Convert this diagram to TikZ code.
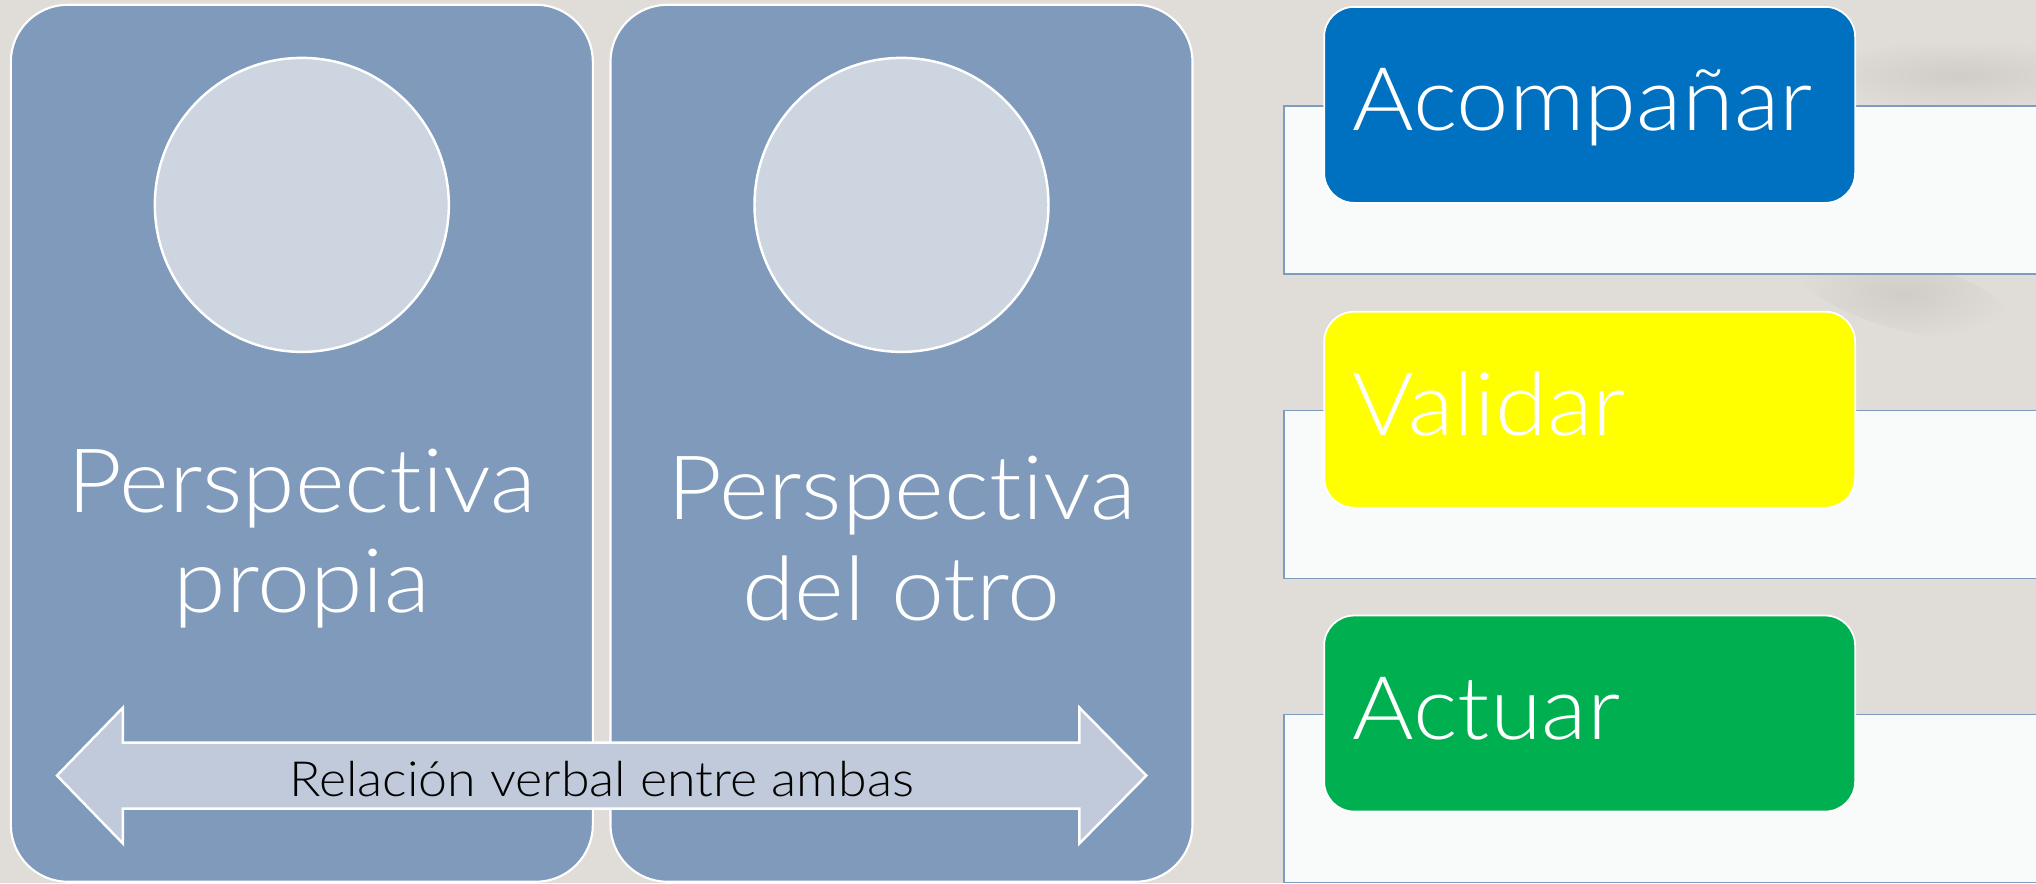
\documentclass[tikz,border=0pt]{standalone}
\usepackage{fontspec}
\setmainfont{Lato}[UprightFont=* Light, FakeStretch=1.07, Ligatures=NoCommon]

\definecolor{backdropgray}{RGB}{224,221,216}
\definecolor{shadowgray}{RGB}{208,204,199}
\definecolor{panelblue}{RGB}{127,154,187}
\definecolor{discgray}{RGB}{204,213,224}
\definecolor{bandgray}{RGB}{192,202,218}
\definecolor{trayfill}{RGB}{249,250,250}
\definecolor{trayline}{RGB}{127,155,190}
\definecolor{cardblue}{RGB}{0,112,192}
\definecolor{cardyellow}{RGB}{255,255,0}
\definecolor{cardgreen}{RGB}{0,176,80}

\begin{document}
\begin{tikzpicture}[x=0.01cm, y=-0.01cm,
		panel/.style={draw=white, line width=0.6pt, fill=panelblue, rounded corners=0.57cm, minimum width=5.82cm, minimum height=8.77cm, inner sep=0pt},
		disc/.style={circle, draw=white, line width=0.7pt, fill=discgray, minimum size=2.94cm, inner sep=0pt},
		view/.style={text=white, font=\fontsize{25.3}{28.5}\selectfont, align=center, inner sep=0pt},
		band/.style={draw=white, line width=0.7pt, fill=bandgray},
		tray/.style={draw=trayline, line width=0.45pt, fill=trayfill, minimum width=8cm, minimum height=1.68cm, anchor=north west, inner sep=0pt},
		card/.style={draw=white, line width=0.5pt, rounded corners=0.3cm, minimum width=5.31cm, minimum height=1.96cm, anchor=north west, inner sep=0pt},
		card text/.style={text=white, font=\fontsize{25}{29}\selectfont, anchor=base west, inner sep=0pt}
	]
\begin{pgfinterruptboundingbox}
	\node[fill=backdropgray, minimum width=20.36cm, minimum height=8.83cm, inner sep=0pt, outer sep=0pt, anchor=north west] (frame) at (0,0) {};
	% soft shadows in the backdrop
	\shade[inner color=shadowgray, outer color=backdropgray] (1960,75) ellipse (1.5cm and 0.35cm);
	\shade[inner color=shadowgray, outer color=backdropgray, rotate around={-15:(1905,295)}] (1905,295) ellipse (1.1cm and 0.35cm);

	% two perspectives
	\node[panel] (own) at (302,443.5) {};
	\node[panel] (other) at (902,443.5) {};
	\node[disc] (ownface) at (302,205) {};
	\node[disc] (otherface) at (902,205) {};
	\node[view] (owntext) at (302,539) {Perspectiva\\propia};
	\node[view] (othertext) at (902,539) {Perspectiva\\del otro};

	\draw[band] (57,776) -- (123,708) -- (123,743) -- (1080,743) -- (1080,708) -- (1147,776)
		-- (1080,844) -- (1080,809) -- (123,809) -- (123,844) -- cycle;
	\node[anchor=base, inner sep=0pt, font=\fontsize{13.8}{16}\selectfont] (bandtext) at (602,797) {Relación verbal entre ambas};

	% steps on the right
	\node[tray] (tray1) at (1284,105) {};
	\node[tray] (tray2) at (1284,410) {};
	\node[tray] (tray3) at (1284,714) {};
	\node[card, fill=cardblue] (accompany) at (1324,6) {};
	\node[card, fill=cardyellow] (validate) at (1324,311) {};
	\node[card, fill=cardgreen] (act) at (1324,615) {};
	\node[card text] (accompanytext) at (1353,131) {Acompañar};
	\node[card text] (validatetext) at (1353,436) {Validar};
	\node[card text] (acttext) at (1353,740) {Actuar};
\end{pgfinterruptboundingbox}
\useasboundingbox (frame.south west) rectangle (frame.north east);
\end{tikzpicture}
\end{document}
